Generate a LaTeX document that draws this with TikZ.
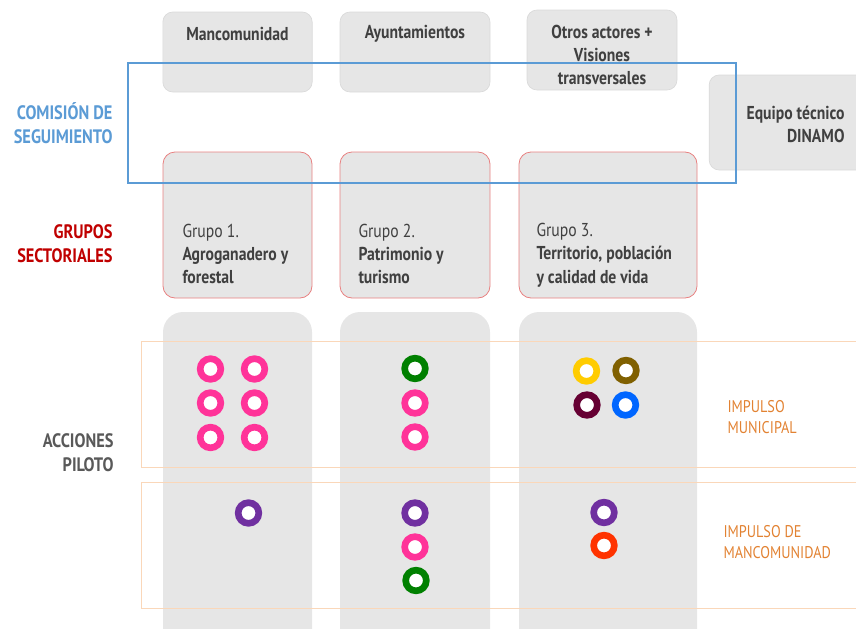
\documentclass[tikz,border=0pt]{standalone}
\usepackage{fontspec}
\setmainfont{PT Sans}[FakeStretch=0.84]
\usetikzlibrary{positioning}

\definecolor{boxgrey}{RGB}{230,230,230}
\definecolor{boxline}{RGB}{218,218,218}
\definecolor{grupoline}{RGB}{232,128,128}
\definecolor{comblue}{RGB}{91,155,213}
\definecolor{grured}{RGB}{192,0,0}
\definecolor{accgrey}{RGB}{89,89,89}
\definecolor{textdark}{RGB}{64,64,64}
\definecolor{impulso}{RGB}{226,130,50}
\definecolor{impline}{RGB}{250,215,185}
\definecolor{cpink}{RGB}{255,51,153}
\definecolor{cgreen}{RGB}{0,128,0}
\definecolor{cpurple}{RGB}{112,48,160}
\definecolor{cyellow}{RGB}{255,204,0}
\definecolor{cbrown}{RGB}{128,96,0}
\definecolor{cmaroon}{RGB}{102,0,51}
\definecolor{cblue}{RGB}{0,102,255}
\definecolor{corange}{RGB}{255,51,0}

\tikzset{every picture/.style={line width=0.75pt}}
\tikzset{
  topbox/.style={fill=boxgrey, draw=boxline, line width=0.5pt, rounded corners=7.5pt, inner sep=0pt, minimum width=112pt, minimum height=60pt},
  grupobox/.style={fill=boxgrey, draw=grupoline, line width=0.6pt, rounded corners=9pt, inner sep=0pt, minimum height=109.5pt},
  columna/.style={fill=boxgrey, rounded corners=15pt, inner sep=0pt, minimum height=261pt},
  boxtext/.style={font=\fontsize{14}{17.5}\selectfont\bfseries, text=textdark, align=center, inner sep=0pt},
  grupotext/.style={font=\fontsize{14}{17.5}\selectfont, text=textdark, align=left, inner sep=0pt, anchor=west},
  sidelabel/.style={font=\fontsize{14.6}{18}\selectfont\bfseries, align=right, inner sep=0pt, anchor=east},
  impulsolabel/.style={font=\fontsize{12.7}{15.75}\selectfont, text=impulso, align=left, inner sep=0pt, anchor=west},
  ring/.style={circle, draw=#1, fill=white, line width=5pt, minimum size=15.5pt, inner sep=0pt}
}

\begin{document}
\begin{tikzpicture}[x=0.75pt,y=0.75pt,yscale=-1,xscale=1]
		\useasboundingbox (0,0) rectangle (856,628);
		\clip (0,0) rectangle (856,628);

		%Shape: top boxes
		\node[topbox] (mancom) at (237.5,52) {};
		\node[topbox, minimum width=112.5pt] (ayunt) at (415,52) {};
		\node[topbox, minimum width=112.5pt] (otros) at (602,50) {};
		\node[topbox, minimum width=128pt, minimum height=71.25pt] (equipo) at (794.5,122.5) {};
		\node[boxtext] (mancomtxt) at (237.5,33.5) {Mancomunidad};
		\node[boxtext] (ayunttxt) at (415,33.5) {Ayuntamientos};
		\node[boxtext] (otrostxt) at (602,55) {Otros actores +\\Visiones\\transversales};
		\node[boxtext, align=right, anchor=east] (equipotxt) at (845,124.5) {Equipo técnico\\DINAMO};

		%Shape: grupo boxes
		\node[grupobox, minimum width=111.75pt] (grupo1) at (237.5,225) {};
		\node[grupobox, minimum width=112.5pt] (grupo2) at (415,225) {};
		\node[grupobox, minimum width=133.5pt] (grupo3) at (608,225) {};
		\node[grupotext] (g1txt) at (182,254) {Grupo 1.\\\textbf{Agroganadero y}\\\textbf{forestal}};
		\node[grupotext] (g2txt) at (358,254) {Grupo 2.\\\textbf{Patrimonio y}\\\textbf{turismo}};
		\node[grupotext] (g3txt) at (536,255) {Grupo 3.\\\textbf{Territorio, población}\\\textbf{y calidad de vida}};

		%Shape: comision rectangle
		\draw[comblue, line width=2pt] (128,63) rectangle (736,183);

		%Shape: acciones columns
		\node[columna, minimum width=111.75pt] (col1) at (237.5,486) {};
		\node[columna, minimum width=112.5pt] (col2) at (415,486) {};
		\node[columna, minimum width=133.5pt] (col3) at (608,486) {};

		%Shape: impulso rectangles
		\draw[impline, line width=0.75pt] (141,341) rectangle (880,467);
		\draw[impline, line width=0.75pt] (141,482) rectangle (880,608);

		%Side labels
		\node[sidelabel, text=comblue] (comision) at (113,123) {COMISIÓN DE\\SEGUIMIENTO};
		\node[sidelabel, text=grured] (grupos) at (113,244) {GRUPOS\\SECTORIALES};
		\node[sidelabel, text=accgrey] (acciones) at (114,453) {ACCIONES\\PILOTO};
		\node[impulsolabel] (impmun) at (727,417) {IMPULSO\\MUNICIPAL};
		\node[impulsolabel] (impman) at (723,542.5) {IMPULSO DE\\MANCOMUNIDAD};

		%Rings grupo 1
		\node[ring=cpink] (a1) at (210.5,369) {};
		\node[ring=cpink] (a2) at (254.5,369) {};
		\node[ring=cpink] (a3) at (210.5,403) {};
		\node[ring=cpink] (a4) at (254.5,403) {};
		\node[ring=cpink] (a5) at (210.5,437.5) {};
		\node[ring=cpink] (a6) at (254.5,437.5) {};
		\node[ring=cpurple] (a7) at (248.5,513) {};

		%Rings grupo 2
		\node[ring=cgreen] (b1) at (415,368.5) {};
		\node[ring=cpink] (b2) at (415,403) {};
		\node[ring=cpink] (b3) at (415,437) {};
		\node[ring=cpurple] (b4) at (415,513) {};
		\node[ring=cpink] (b5) at (415,547) {};
		\node[ring=cgreen] (b6) at (416,580.5) {};

		%Rings grupo 3
		\node[ring=cyellow] (c1) at (586.5,371) {};
		\node[ring=cbrown] (c2) at (626,370.5) {};
		\node[ring=cmaroon] (c3) at (587,405) {};
		\node[ring=cblue] (c4) at (625.5,405) {};
		\node[ring=cpurple] (c5) at (604,512.5) {};
		\node[ring=corange] (c6) at (604,545.5) {};

		\end{tikzpicture}
\end{document}
